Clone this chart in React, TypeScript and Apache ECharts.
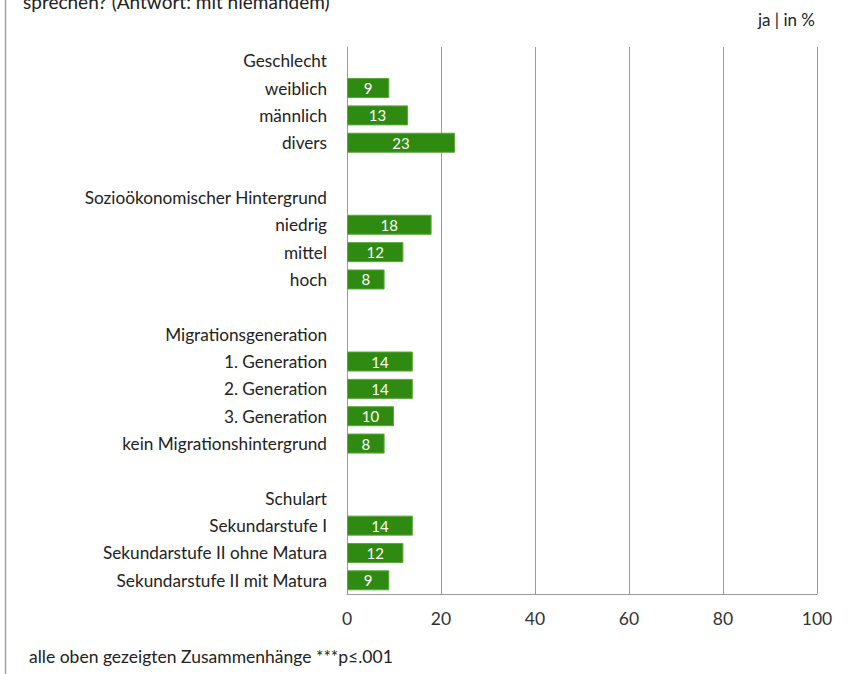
import React, { useEffect, useRef } from "react";
import * as echarts from "echarts";

const categories = [
  "Geschlecht", "weiblich", "männlich", "divers", "",
  "Sozioökonomischer Hintergrund", "niedrig", "mittel", "hoch", " ",
  "Migrationsgeneration", "1. Generation", "2. Generation", "3. Generation", "kein Migrationshintergrund", "  ",
  "Schulart", "Sekundarstufe I", "Sekundarstufe II ohne Matura", "Sekundarstufe II mit Matura",
];
const values: (number | null)[] = [
  null, 9, 13, 23, null,
  null, 18, 12, 8, null,
  null, 14, 14, 10, 8, null,
  null, 14, 12, 9,
];
const xTicks = [0, 20, 40, 60, 80, 100];
const titleText = "sprechen? (Antwort: mit niemandem)";
const unitText = "ja | in %";
const footText = "alle oben gezeigten Zusammenhänge ***p≤.001";

const FONT = "Lato, 'Open Sans', sans-serif";

export default function App() {
  const ref = useRef<HTMLDivElement>(null);
  useEffect(() => {
    const chart = echarts.init(ref.current!, null, { renderer: "svg" });
    chart.setOption({
      animation: false,
      backgroundColor: "#ffffff",
      textStyle: { fontFamily: FONT },
      grid: { left: 347, right: 34, top: 47, bottom: 80, containLabel: false },
      xAxis: {
        type: "value",
        min: xTicks[0],
        max: xTicks[xTicks.length - 1],
        interval: 20,
        axisLine: { show: true, lineStyle: { color: "#9a9a9a", width: 1 } },
        axisTick: { show: false },
        splitLine: { show: true, lineStyle: { color: "#9a9a9a", width: 1 } },
        axisLabel: { color: "#333", fontSize: 17.5, margin: 15, fontFamily: FONT },
      },
      yAxis: {
        type: "category",
        inverse: true,
        data: categories,
        axisLine: { show: true, lineStyle: { color: "#9a9a9a", width: 1 } },
        axisTick: { show: false },
        axisLabel: { color: "#222", fontSize: 17.2, margin: 20, fontFamily: FONT },
      },
      series: [
        {
          type: "bar",
          data: values.map((v) => (v === null ? "-" : v)),
          barWidth: 20,
          itemStyle: { color: "#2e8a10", borderColor: "#5aa83a", borderWidth: 1 },
          label: {
            show: true,
            position: "inside",
            color: "#ffffff",
            fontSize: 15,
            fontFamily: FONT,
          },
        },
      ],
      graphic: [
        { type: "line", shape: { x1: 5.5, y1: 0, x2: 5.5, y2: 674 }, style: { stroke: "#a0a0a0", lineWidth: 1.5 } },
        { type: "text", left: 23, top: -8, style: { text: titleText, fontSize: 19, fill: "#222", fontFamily: FONT } },
        { type: "text", right: 36, top: 11, style: { text: unitText, fontSize: 17, fill: "#222", fontFamily: FONT } },
        { type: "text", left: 29, top: 647, style: { text: footText, fontSize: 17.5, fill: "#222", fontFamily: FONT } },
      ],
    });
    return () => chart.dispose();
  }, []);
  return <div ref={ref} style={{ position: "absolute", left: 0, top: 0, width: 851, height: 674 }} />;
}
